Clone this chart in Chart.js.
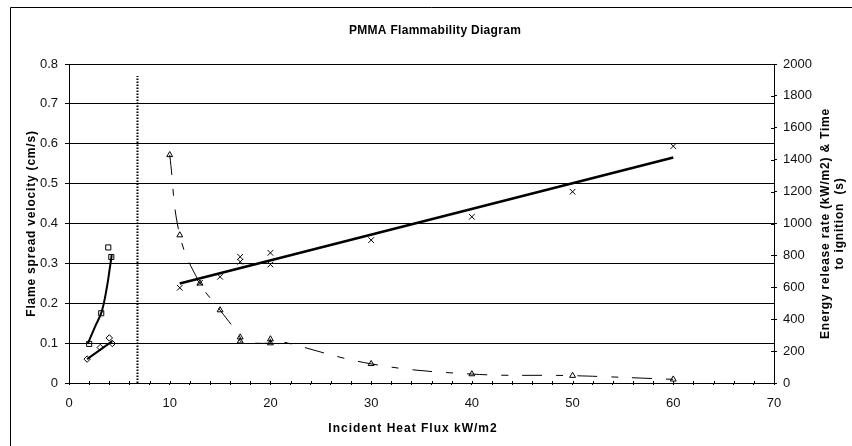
<!DOCTYPE html>
<html>
<head>
<meta charset="utf-8">
<script src="https://cdn.jsdelivr.net/npm/chart.js@4/dist/chart.umd.min.js"></script>
<style>
html, body { margin: 0; padding: 0; background: #fff; }
</style>
</head>
<body>
<canvas id="c" width="852" height="446"></canvas>
<script>
// flame spread velocity (left axis) - squares and diamonds
var sqX = [2, 3.2, 3.9, 4.2];
var sqY = [0.098, 0.175, 0.34, 0.316];
var sqFitX = [1.86, 2.58, 3.25, 3.74, 4.07, 4.24];
var sqFitY = [0.098, 0.141, 0.179, 0.237, 0.291, 0.321];

var diX = [1.8, 3.1, 4.0, 4.3];
var diY = [0.06, 0.089, 0.113, 0.099];
var diFitX = [1.8, 4.3];
var diFitY = [0.06, 0.105];

// critical flux marker
var critX = [6.8, 6.8];
var critY = [0, 0.77];

// time to ignition (right axis) - triangles
var tigX = [10, 11, 13, 15, 17, 17, 20, 20, 30, 40, 50, 60];
var tigY = [1430, 927, 625, 457, 287, 262, 250, 275, 120, 56, 46, 23];

// energy release rate (right axis) - crosses
var errX = [11, 13, 15, 17, 17, 20, 20, 30, 40, 50, 60];
var errY = [597, 628, 666, 791, 760, 816, 743, 896, 1042, 1199, 1485];
var errFitX = [11, 60];
var errFitY = [624, 1414];

var xTicks = [0, 10, 20, 30, 40, 50, 60, 70];

var title = 'PMMA Flammability Diagram';
var xTitle = 'Incident Heat Flux kW/m2';
var yTitle = 'Flame spread velocity (cm/s)';
var y2Title = ['Energy release rate (kW/m2) & Time', 'to ignition  (s)'];

function pts(xs, ys) {
    return xs.map(function(x, i) { return {x: x, y: ys[i]}; });
}

var FONT = "'Liberation Sans', Arial, sans-serif";
Chart.defaults.font.family = FONT;
Chart.defaults.font.size = 13;
Chart.defaults.color = '#111';

var frame = {
    id: 'frame',
    beforeDraw: function(chart) {
        var c = chart.ctx;
        c.save();
        c.fillStyle = '#fff';
        c.fillRect(0, 0, chart.width, chart.height);
        c.strokeStyle = '#000';
        c.lineWidth = 1;
        c.beginPath();
        c.moveTo(10.5, chart.height);
        c.lineTo(10.5, 7.5);
        c.lineTo(chart.width, 7.5);
        c.stroke();
        c.restore();
    },
    afterDraw: function(chart) {
        var c = chart.ctx;
        var xs = chart.scales.x, y2 = chart.scales.y2;
        var area = chart.chartArea;
        var cy = (area.top + area.bottom) / 2;
        c.save();
        // inner halves of the tick marks
        c.strokeStyle = '#000';
        c.lineWidth = 1;
        c.beginPath();
        xs.ticks.forEach(function(t) {
            var px = Math.round(xs.getPixelForValue(t.value)) + 0.5;
            c.moveTo(px, xs.top);
            c.lineTo(px, xs.top - 2);
        });
        y2.ticks.forEach(function(t) {
            var py = Math.round(y2.getPixelForValue(t.value)) + 0.5;
            c.moveTo(y2.left, py);
            c.lineTo(y2.left - 3, py);
        });
        c.stroke();

        c.fillStyle = '#000';
        c.textAlign = 'center';
        c.textBaseline = 'middle';
        c.font = 'bold 12px ' + FONT;
        c.letterSpacing = '0.3px';
        c.fillText(title, 435, 31);

        c.letterSpacing = '1px';
        c.fillText(xTitle, 413, 429);

        c.letterSpacing = '0.8px';
        c.save();
        c.translate(32, cy);
        c.rotate(-Math.PI / 2);
        c.fillText(yTitle, 0, 0);
        c.restore();

        c.translate(826, cy);
        c.rotate(-Math.PI / 2);
        c.fillText(y2Title[0], 0, 0);
        c.fillText(y2Title[1], 0, 14);
        c.restore();
    }
};

new Chart(document.getElementById('c'), {
    type: 'scatter',
    data: {
        datasets: [
            {
                data: pts(sqX, sqY), yAxisID: 'y',
                pointStyle: 'rect', radius: 3.6, borderColor: '#000', borderWidth: 1,
                backgroundColor: 'rgba(0,0,0,0)'
            },
            {
                data: pts(sqFitX, sqFitY), yAxisID: 'y', showLine: true, tension: 0.4,
                pointRadius: 0, borderColor: '#000', borderWidth: 2
            },
            {
                data: pts(diX, diY), yAxisID: 'y',
                pointStyle: 'rectRot', radius: 3.2, borderColor: '#000', borderWidth: 1,
                backgroundColor: 'rgba(0,0,0,0)'
            },
            {
                data: pts(diFitX, diFitY), yAxisID: 'y', showLine: true,
                pointRadius: 0, borderColor: '#000', borderWidth: 2
            },
            {
                data: pts(critX, critY), yAxisID: 'y', showLine: true,
                pointRadius: 0, borderColor: '#000', borderWidth: 2, borderDash: [1.5, 1.5]
            },
            {
                data: pts(tigX, tigY), yAxisID: 'y2', showLine: true, tension: 0.4,
                pointStyle: 'triangle', radius: 3.4, borderColor: '#000', borderWidth: 1,
                backgroundColor: 'rgba(0,0,0,0)', borderDash: [20, 14, 7, 14]
            },
            {
                data: pts(errX, errY), yAxisID: 'y2',
                pointStyle: 'crossRot', radius: 4, borderColor: '#000', borderWidth: 1
            },
            {
                data: pts(errFitX, errFitY), yAxisID: 'y2', showLine: true,
                pointRadius: 0, borderColor: '#000', borderWidth: 2.5
            }
        ]
    },
    options: {
        responsive: false,
        animation: false,
        layout: { padding: { top: 64 } },
        plugins: { legend: { display: false }, tooltip: { enabled: false } },
        scales: {
            x: {
                type: 'linear', min: 0, max: 70,
                afterFit: function(s) { s.height = 63; },
                afterBuildTicks: function(s) {
                    var t = [];
                    for (var v = 0; v <= 70; v += 2) t.push({value: v});
                    s.ticks = t;
                },
                ticks: {
                    autoSkip: false, maxRotation: 0, padding: 11,
                    callback: function(v) { return xTicks.indexOf(v) >= 0 ? String(v) : ''; }
                },
                grid: { drawOnChartArea: false, tickLength: 2, color: '#000' },
                border: { color: '#000' }
            },
            y: {
                position: 'left', min: 0, max: 0.8,
                afterFit: function(s) { s.width = 69; },
                ticks: { stepSize: 0.1, padding: 7 },
                grid: { color: '#000', tickLength: 4 },
                border: { color: '#000' }
            },
            y2: {
                position: 'right', min: 0, max: 2000,
                afterFit: function(s) { s.width = 78; },
                ticks: {
                    stepSize: 200, padding: 6,
                    callback: function(v) { return String(v); }
                },
                grid: { drawOnChartArea: false, color: '#000', tickLength: 3 },
                border: { color: '#000' }
            }
        }
    },
    plugins: [frame]
});
</script>
</body>
</html>
